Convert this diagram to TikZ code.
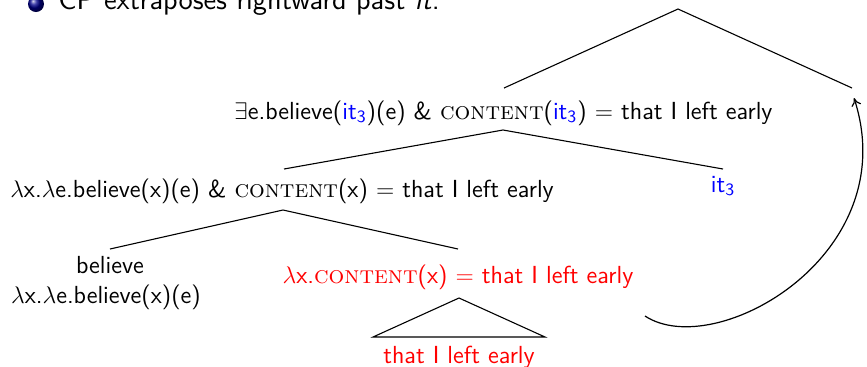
\documentclass[tikz,border=0pt]{standalone}
\usepackage{amsmath}
\usetikzlibrary{arrows.meta}
\definecolor{itblue}{RGB}{0,0,255}
\definecolor{cpred}{RGB}{255,0,0}
\newcommand{\cnt}{\textrm{\scshape content}}
\newcommand{\itt}{\textcolor{itblue}{it$_{\text{3}}$}}
\begin{document}
\begin{tikzpicture}[x=0.5pt,y=-0.5pt,
  lbl/.style={font=\fontsize{12.35}{14}\selectfont\sffamily, inner sep=0pt, anchor=base},
  branch/.style={line width=0.55pt},
  mv/.style={line width=0.6pt, -{To[length=4pt,width=5pt]}}]
\useasboundingbox (0,0) rectangle (867,366);
% title line (cut off at top)
\shade[ball color=blue!55!black] (36,4) circle (8);
\node[lbl, font=\fontsize{14.5}{17}\selectfont\sffamily, anchor=base west] (title) at (58,9) {CP extraposes rightward past \textit{it}.};
% tree coordinates
\coordinate (R) at (678,9);
\coordinate (RL) at (504,88);
\coordinate (RR) at (852,88);
\coordinate (Aap) at (503,130);
\coordinate (AL) at (284,169);
\coordinate (AR) at (723,169);
\coordinate (Bap) at (283,210);
\coordinate (BL) at (110,249);
\coordinate (BR) at (458,249);
\coordinate (Tap) at (459,298);
\coordinate (TL) at (373,337);
\coordinate (TR) at (545,337);
\coordinate (S) at (645,316);
\coordinate (E) at (854,98);
% nodes
\node[lbl] (A) at (503.5,119) {$\exists$e.believe(\itt)(e) \& \cnt(\itt) $=$ that I left early};
\node[lbl] (B) at (282,197) {$\lambda$x.$\lambda$e.believe(x)(e) \& \cnt(x) $=$ that I left early};
\node[lbl] (it) at (723,192) {\itt};
\node[lbl] (bel1) at (110,273) {believe};
\node[lbl] (bel2) at (106,303) {$\lambda$x.$\lambda$e.believe(x)(e)};
\node[lbl, text=cpred] (C) at (458,283) {$\lambda$x.\cnt(x) $=$ that I left early};
\node[lbl, text=cpred] (CP) at (459,363) {that I left early};
% branches
\draw[branch] (RL) -- (R) -- (RR);
\draw[branch] (AL) -- (Aap) -- (AR);
\draw[branch] (BL) -- (Bap) -- (BR);
\draw[branch] (TL) -- (Tap) -- (TR) -- cycle;
% movement arrow
\draw[mv] (S) .. controls (715,362) and (905,255) .. (E);
\end{tikzpicture}
\end{document}
